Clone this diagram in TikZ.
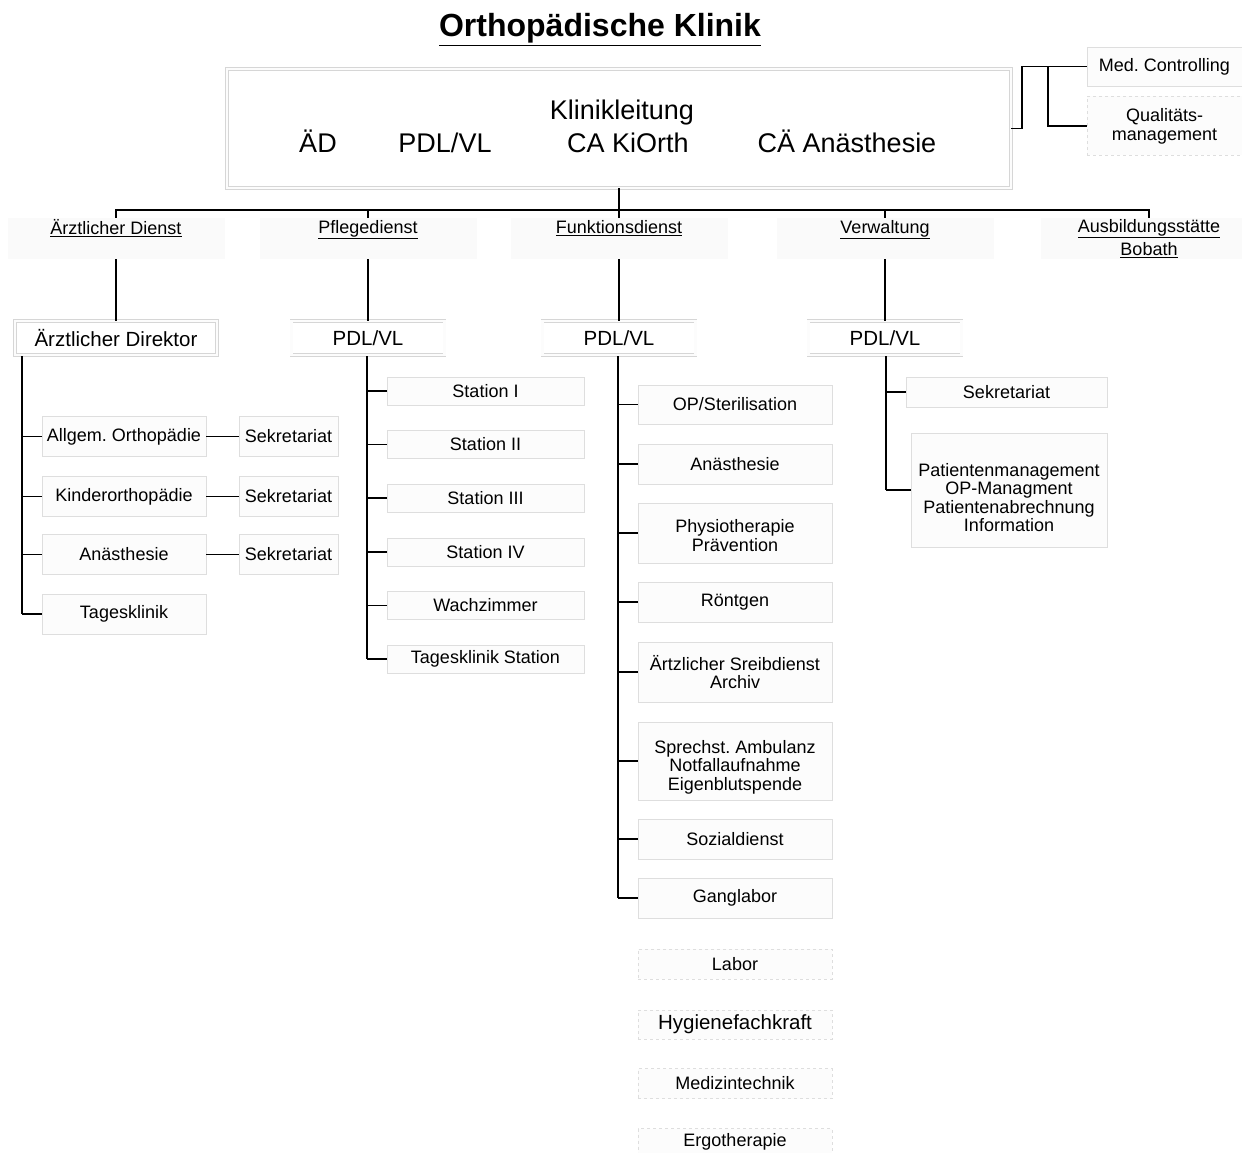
\documentclass[tikz,border=0pt]{standalone}
\usepackage{fontspec}
\setmainfont{Liberation Sans}
\frenchspacing

\begin{document}
\begin{tikzpicture}[x=1pt, y=-1pt, thick,
  box/.style = {draw=black!13, fill=black!1, line width=0.5pt, align=center, inner sep=1pt, font=\fontsize{18}{18.5}\selectfont},
  dashbox/.style = {box, dashed},
  dbox/.style = {draw=black!16, double=black!1, double distance=2.5pt, line width=0.6pt, inner sep=1pt, font=\fontsize{20.5}{22}\selectfont},
  cat/.style = {fill=black!2, minimum width=217pt, minimum height=41pt, align=center, inner sep=0pt, font=\fontsize{18}{23}\selectfont},
  head/.style = {inner sep=0pt, anchor=base, font=\fontsize{27}{29}\selectfont},
  link/.style = {line width=1.2pt},
  trunk/.style = {line width=2pt}]
\useasboundingbox (0,0) rectangle (1242,1153);

\node[anchor=base, font=\fontsize{32}{34}\selectfont\bfseries] (title) at (600,37) {\underline{Orthopädische Klinik}};

% Klinikleitung
\node[dbox, minimum width=784pt, minimum height=119pt] (kl) at (619,128.5) {};
\node[head] (klt) at (622,120) {Klinikleitung};
\node[head] (kad) at (318,153) {ÄD};
\node[head] (kpdl) at (445,153) {PDL/VL};
\node[head] (kca) at (628,153) {CA KiOrth};
\node[head] (kcae) at (847,153) {CÄ Anästhesie};

\node[box, minimum width=155pt, minimum height=39pt] (mc) at (1164.5,66.5) {Med. Controlling};
\node[dashbox, minimum width=155pt, minimum height=59pt, font=\fontsize{18}{19}\selectfont] (qm) at (1164.5,126) {Qualitäts-\\management};
\coordinate (kljog) at (1022,128.5);
\coordinate (qmfork) at (1048,66.5);
\draw[link] (kl.east) -- (kljog) |- (mc.west);
\draw[link] (qmfork) |- (qm.west);

% Dienste
\coordinate (hub) at (619,210);
\node[cat] (ad) at (116,238.5) {\underline{Ärztlicher Dienst}\\\mbox{}};
\node[cat] (pd) at (368,238.5) {\underline{Pflegedienst}\\\mbox{}};
\node[cat] (fd) at (619,238.5) {\underline{Funktionsdienst}\\\mbox{}};
\node[cat] (vw) at (885,238.5) {\underline{Verwaltung}\\\mbox{}};
\node[cat] (ab) at (1149,238.5) {\underline{Ausbildungsstätte}\\\underline{Bobath}};
\draw[link] (kl.south) -- (hub);
\draw[link] (hub) -| (ad.north);
\draw[link] (hub) -| (pd.north);
\draw[link] (hub) -- (fd.north);
\draw[link] (hub) -| (vw.north);
\draw[link] (hub) -| (ab.north);

\node[dbox, minimum width=202pt, minimum height=34pt] (ad2) at (116,338) {Ärztlicher Direktor};
\node[dbox, minimum width=153pt, minimum height=34pt] (pd2) at (368,338) {PDL/VL};
\node[dbox, minimum width=153pt, minimum height=34pt] (fd2) at (619,338) {PDL/VL};
\node[dbox, minimum width=153pt, minimum height=34pt] (vw2) at (885,338) {PDL/VL};
\draw[link] (ad) -- (ad2);
\draw[link] (pd) -- (pd2);
\draw[link] (fd) -- (fd2);
\draw[link] (vw) -- (vw2);

% Aerztlicher Dienst
\node[box, minimum width=164pt, minimum height=40pt] (allg) at (124,436.5) {Allgem. Orthopädie};
\node[box, minimum width=164pt, minimum height=40pt] (kind) at (124,496.5) {Kinderorthopädie};
\node[box, minimum width=164pt, minimum height=40pt] (anae) at (124,554.5) {Anästhesie};
\node[box, minimum width=164pt, minimum height=40pt] (tagk) at (124,614) {Tagesklinik};
\node[box, minimum width=99pt, minimum height=40pt] (sek1) at (288.5,436.5) {Sekretariat};
\node[box, minimum width=99pt, minimum height=40pt] (sek2) at (288.5,496.5) {Sekretariat};
\node[box, minimum width=99pt, minimum height=40pt] (sek3) at (288.5,554.5) {Sekretariat};
\coordinate (adt) at (22,356);
\draw[trunk] (adt) -- (adt |- tagk.west);
\draw[link] (allg.west) -- (allg.west -| adt);
\draw[link] (kind.west) -- (kind.west -| adt);
\draw[link] (anae.west) -- (anae.west -| adt);
\draw[link] (tagk.west) -- (tagk.west -| adt);
\draw[link] (allg.east) -- (sek1.west);
\draw[link] (kind.east) -- (sek2.west);
\draw[link] (anae.east) -- (sek3.west);

% Pflegedienst
\node[box, minimum width=197pt, minimum height=28pt] (st1) at (485.5,391) {Station I};
\node[box, minimum width=197pt, minimum height=28pt] (st2) at (485.5,444.5) {Station II};
\node[box, minimum width=197pt, minimum height=28pt] (st3) at (485.5,498) {Station III};
\node[box, minimum width=197pt, minimum height=28pt] (st4) at (485.5,552) {Station IV};
\node[box, minimum width=197pt, minimum height=28pt] (wach) at (485.5,605.5) {Wachzimmer};
\node[box, minimum width=197pt, minimum height=28pt] (tags) at (485.5,659) {Tagesklinik Station};
\coordinate (pdt) at (367,356);
\draw[trunk] (pdt) -- (pdt |- tags.west);
\draw[link] (st1.west) -- (st1.west -| pdt);
\draw[link] (st2.west) -- (st2.west -| pdt);
\draw[link] (st3.west) -- (st3.west -| pdt);
\draw[link] (st4.west) -- (st4.west -| pdt);
\draw[link] (wach.west) -- (wach.west -| pdt);
\draw[link] (tags.west) -- (tags.west -| pdt);

% Funktionsdienst
\node[box, minimum width=194pt, minimum height=39pt] (op) at (735,404.5) {OP/Sterilisation};
\node[box, minimum width=194pt, minimum height=40pt] (fan) at (735,464) {Anästhesie};
\node[box, minimum width=194pt, minimum height=60pt] (phys) at (735,533) {};
\node[box, draw=none, fill=none] (physt) at (735,535.5) {Physiotherapie\\Prävention};
\node[box, minimum width=194pt, minimum height=40pt] (roe) at (735,602) {Röntgen};
\node[box, minimum width=194pt, minimum height=60pt] (schr) at (735,672) {Ärtzlicher Sreibdienst\\Archiv};
\node[box, minimum width=194pt, minimum height=78pt] (spr) at (735,761) {};
\node[box, draw=none, fill=none] (sprt) at (735,767) {Sprechst. Ambulanz\\Notfallaufnahme\\Eigenblutspende};
\node[box, minimum width=194pt, minimum height=40pt] (soz) at (735,839) {Sozialdienst};
\node[box, minimum width=194pt, minimum height=40pt] (gang) at (735,898) {Ganglabor};
\node[dashbox, minimum width=194pt, minimum height=30pt] (lab) at (735,964) {Labor};
\node[dashbox, minimum width=194pt, minimum height=29pt, font=\fontsize{20.5}{22}\selectfont] (hyg) at (735,1024.5) {Hygienefachkraft};
\node[dashbox, minimum width=194pt, minimum height=30pt] (medt) at (735,1083.5) {Medizintechnik};
\node[dashbox, minimum width=194pt, minimum height=26pt] (ergo) at (735,1141.5) {Ergotherapie};
\coordinate (fdt) at (618,356);
\draw[trunk] (fdt) -- (fdt |- gang.west);
\draw[link] (op.west) -- (op.west -| fdt);
\draw[link] (fan.west) -- (fan.west -| fdt);
\draw[link] (phys.west) -- (phys.west -| fdt);
\draw[link] (roe.west) -- (roe.west -| fdt);
\draw[link] (schr.west) -- (schr.west -| fdt);
\draw[link] (spr.west) -- (spr.west -| fdt);
\draw[link] (soz.west) -- (soz.west -| fdt);
\draw[link] (gang.west) -- (gang.west -| fdt);

% Verwaltung
\node[box, minimum width=201pt, minimum height=30pt] (vsek) at (1006.5,392) {Sekretariat};
\node[box, minimum width=196pt, minimum height=114pt] (pat) at (1009,490) {};
\node[box, draw=none, fill=none] (patt) at (1009,497.5) {Patientenmanagement\\OP-Managment\\Patientenabrechnung\\Information};
\coordinate (vwt) at (886,356);
\draw[trunk] (vwt) -- (vwt |- pat.west);
\draw[link] (vsek.west) -- (vsek.west -| vwt);
\draw[link] (pat.west) -- (pat.west -| vwt);
\end{tikzpicture}
\end{document}
